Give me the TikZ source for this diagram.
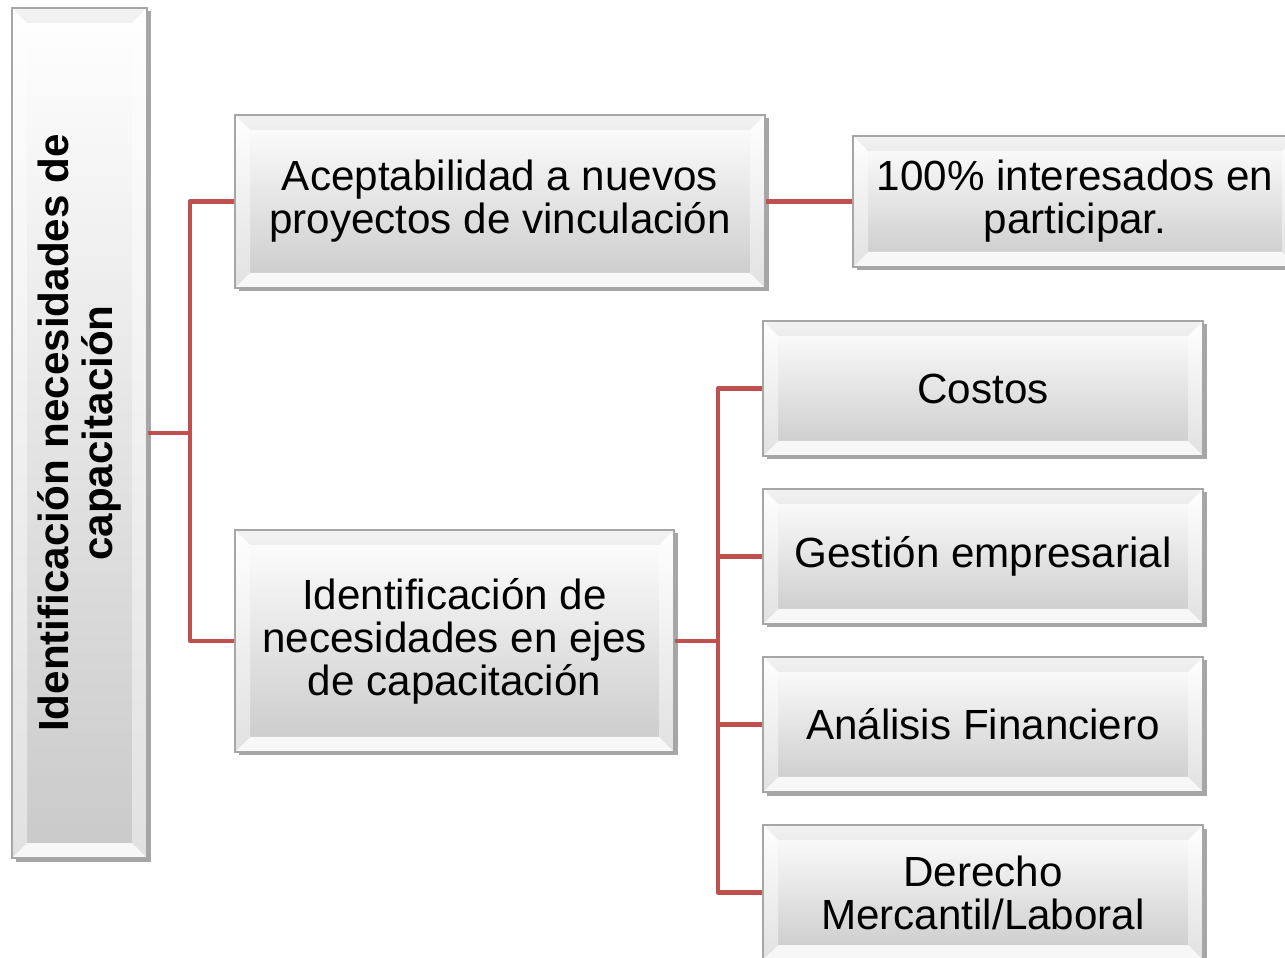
\documentclass[tikz,border=0pt]{standalone}
\usepackage{fontspec}
\setmainfont{Liberation Sans}
\usetikzlibrary{shadows}
\definecolor{linkred}{HTML}{C0504D}
\newcommand{\bevw}{0.3cm}
\begin{document}
\begin{tikzpicture}[
	box/.style={shape=rectangle, draw=black!35, line width=0.6pt, top color=white, bottom color=black!21,
		align=center, font=\fontsize{24}{24.5}\selectfont, inner sep=0pt,
		drop shadow={shadow xshift=0.07cm, shadow yshift=-0.07cm, opacity=0.35, fill=black},
		path picture={
			\fill[white, opacity=0.85] (path picture bounding box.south west) -- (path picture bounding box.south east) -- ([xshift=-\bevw, yshift=\bevw]path picture bounding box.south east) -- ([xshift=\bevw, yshift=\bevw]path picture bounding box.south west) -- cycle;
			\fill[black, opacity=0.05] (path picture bounding box.north west) -- (path picture bounding box.north east) -- ([xshift=-\bevw, yshift=-\bevw]path picture bounding box.north east) -- ([xshift=\bevw, yshift=-\bevw]path picture bounding box.north west) -- cycle;
			\fill[white, opacity=0.45] (path picture bounding box.north west) -- ([xshift=\bevw, yshift=-\bevw]path picture bounding box.north west) -- ([xshift=\bevw, yshift=\bevw]path picture bounding box.south west) -- (path picture bounding box.south west) -- cycle;
			\fill[white, opacity=0.45] (path picture bounding box.north east) -- ([xshift=-\bevw, yshift=-\bevw]path picture bounding box.north east) -- ([xshift=-\bevw, yshift=\bevw]path picture bounding box.south east) -- (path picture bounding box.south east) -- cycle;
		}},
	link/.style={draw=linkred, line width=2.7pt, line join=round}]
	\useasboundingbox (0,0) rectangle (25.7,19.14);
	% left column
	\node (ident) at (1.59,10.48) [box, minimum width=2.7cm, minimum height=17cm,
		label={[rotate=90, anchor=center, align=center, font=\fontsize{24}{25}\selectfont\bfseries]center:Identificación necesidades de\\capacitación}] {};
	% middle column
	\node (acept) at (10.0,15.11) [box, minimum width=10.6cm, minimum height=3.46cm] {Aceptabilidad a nuevos\\proyectos de vinculación};
	\node (ejes) at (9.09,6.32) [box, minimum width=8.78cm, minimum height=4.44cm] {Identificación de\\necesidades en ejes\\de capacitación};
	% right column
	\node (interes) at (21.5,15.11) [box, minimum width=8.88cm, minimum height=2.62cm] {100\% interesados en\\participar.};
	\node (costos) at (19.66,11.37) [box, minimum width=8.8cm, minimum height=2.7cm] {Costos};
	\node (gestion) at (19.66,8.01) [box, minimum width=8.8cm, minimum height=2.7cm] {Gestión empresarial};
	\node (analisis) at (19.66,4.65) [box, minimum width=8.8cm, minimum height=2.7cm] {Análisis Financiero};
	\node (derecho) at (19.66,1.29) [box, minimum width=8.8cm, minimum height=2.7cm] {Derecho\\Mercantil/Laboral};
	% connectors
	\coordinate (j1) at (3.8,10.48);
	\coordinate (j2) at (14.36,6.32);
	\draw[link] (ident.east) -- (j1);
	\draw[link] (acept.west) -- (acept.west -| j1) |- (ejes.west);
	\draw[link] (acept.east) -- (interes.west);
	\draw[link] (ejes.east) -- (j2);
	\draw[link] (costos.west) -- (costos.west -| j2) |- (derecho.west);
	\draw[link] (gestion.west) -- (gestion.west -| j2);
	\draw[link] (analisis.west) -- (analisis.west -| j2);
\end{tikzpicture}
\end{document}
